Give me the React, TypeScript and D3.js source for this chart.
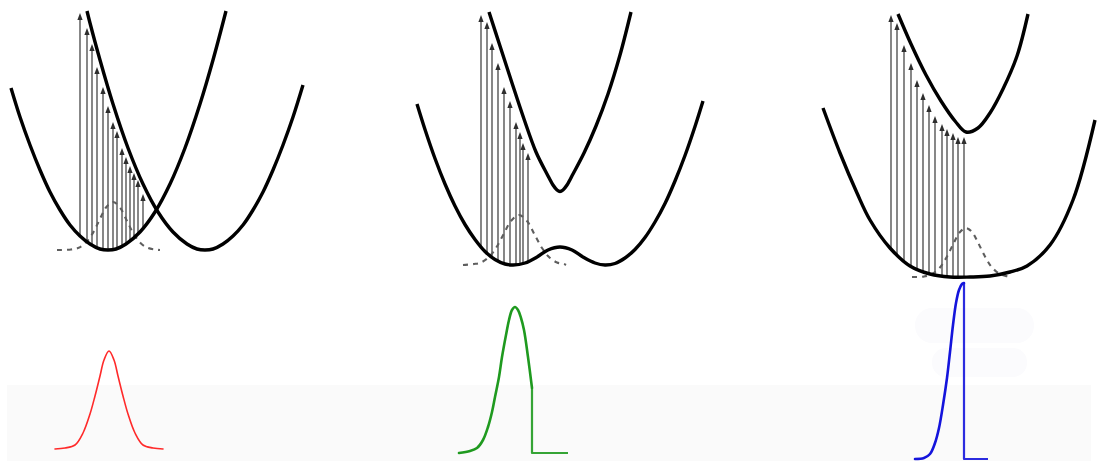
import React from "react";
import * as d3 from "d3";

// Potential-energy curves: [nuclear coordinate q, energy E]
const groundCurve1: [number, number][] = [[1.1,20.2],[2.0,17.3],[3.0,14.5],[4.0,12.0],[5.0,9.8],[6.0,8.0],[7.0,6.5],[8.0,5.4],[9.0,4.6],[10.0,4.1],[10.8,4.0],[11.6,4.1],[12.6,4.6],[14.0,5.8],[15.5,7.8],[17.0,10.6],[18.5,14.2],[20.0,18.6],[21.3,23.0],[22.6,27.9]];
const excitedCurve1: [number, number][] = [[8.7,27.9],[9.0,26.7],[10.0,23.0],[11.3,18.6],[12.8,14.2],[14.3,10.6],[15.8,7.8],[17.3,5.8],[18.7,4.6],[19.7,4.1],[20.5,4.0],[21.3,4.1],[22.3,4.6],[23.3,5.4],[24.3,6.5],[25.3,8.0],[26.3,9.8],[27.3,12.0],[28.3,14.5],[29.3,17.3],[30.3,20.5]];
const groundCurve2: [number, number][] = [[1.7,18.6],[2.5,16.05],[3.5,13.15],[4.5,10.6],[5.5,8.4],[6.5,6.55],[7.5,5.05],[8.5,3.85],[9.5,3.05],[10.5,2.6],[11.3,2.5],[12.5,2.7],[13.7,3.3],[14.8,4.0],[16.0,4.3],[17.2,4.0],[18.3,3.3],[19.5,2.7],[20.5,2.5],[21.5,2.65],[22.5,3.2],[23.5,4.05],[24.5,5.25],[25.5,6.8],[26.5,8.65],[27.5,10.9],[28.5,13.45],[29.5,16.35],[30.3,18.9]];
const excitedCurve2: [number, number][] = [[8.9,27.8],[10.0,24.4],[11.2,20.7],[12.4,17.1],[13.6,13.8],[14.7,11.6],[15.3,10.5],[15.7,10.0],[16.0,9.85],[16.3,10.0],[16.7,10.5],[17.3,11.6],[18.4,13.7],[19.6,16.4],[20.8,19.6],[22.0,23.5],[23.1,27.8]];
const groundCurve3: [number, number][] = [[2.3,18.2],[4.0,13.7],[5.7,9.7],[7.0,7.0],[9.0,4.2],[11.0,2.4],[13.0,1.6],[15.0,1.3],[17.0,1.3],[19.0,1.4],[21.0,1.8],[22.7,2.4],[25.0,4.5],[27.3,9.0],[29.5,17.0]];
const excitedCurve3: [number, number][] = [[9.8,27.6],[11.1,24.6],[12.6,21.5],[14.1,18.9],[15.5,16.9],[16.6,15.8],[17.8,16.2],[19.0,17.7],[20.3,20.1],[21.7,23.4],[22.8,27.6]];

// Ground-state probability density (dashed)
const wavepacket1: [number, number][] = [[5.7,4.0],[7.1,4.05],[7.8,4.2],[8.5,4.65],[9.2,5.55],[9.9,6.9],[10.6,8.25],[11.3,8.8],[12.0,8.25],[12.7,6.9],[13.4,5.55],[14.1,4.65],[14.8,4.2],[15.5,4.05],[16.0,4.0]];
const wavepacket2: [number, number][] = [[6.3,2.5],[7.4,2.6],[8.1,2.75],[8.9,3.3],[9.6,4.2],[10.4,5.65],[11.1,6.9],[11.9,7.5],[12.7,6.9],[13.4,5.65],[14.2,4.2],[14.9,3.3],[15.7,2.75],[16.4,2.6],[16.6,2.5]];
const wavepacket3: [number, number][] = [[11.2,1.3],[12.4,1.35],[13.2,1.6],[14.0,2.25],[14.7,3.35],[15.4,4.75],[16.0,5.8],[16.6,6.2],[17.2,5.8],[17.8,4.75],[18.5,3.35],[19.2,2.25],[20.0,1.6],[20.8,1.35],[21.0,1.3]];

// Vertical transitions: position q and upper energy reached
const arrowQ1 = [8.0,8.7,9.2,9.7,10.3,10.8,11.3,11.7,12.2,12.6,13.0,13.4,13.8,14.3];
const arrowTip1 = [27.7,26.2,24.6,22.3,20.3,18.4,16.8,15.9,14.2,13.3,12.4,11.7,11.0,9.6];
const arrowQ2 = [8.1,8.7,9.2,9.8,10.4,11.0,11.6,12.0,12.3,12.8];
const arrowTip2 = [27.5,26.8,24.7,22.7,20.3,18.9,16.8,15.8,14.7,13.7];
const arrowQ3 = [9.1,9.7,10.4,11.1,11.7,12.3,12.9,13.5,14.2,14.7,15.3,15.8,16.4];
const arrowTip3 = [27.5,26.7,24.5,22.7,21.0,19.7,18.5,17.4,16.6,16.1,15.7,15.3,15.3];

// Absorption spectra: [q, intensity]
const redSpectrum: [number, number][] = [[5.5,1.2],[6.5,1.3],[7.5,1.6],[8.3,2.8],[9.0,4.7],[9.5,6.5],[10.0,8.5],[10.4,10.1],[10.9,11.0],[11.4,10.1],[11.8,8.5],[12.3,6.5],[12.8,4.7],[13.5,2.8],[14.3,1.6],[15.3,1.3],[16.3,1.2]];
const greenSpectrum: [number, number][] = [[5.9,0.8],[7.0,1.0],[7.7,1.3],[8.3,2.1],[8.8,3.4],[9.2,4.9],[9.5,6.4],[9.9,8.4],[10.2,10.4],[10.6,12.6],[10.9,14.1],[11.2,15.1],[11.5,15.4],[11.8,15.1],[12.1,14.3],[12.4,13.1],[12.8,10.4],[13.2,7.3]];
const greenCutoff: [number, number][] = [[13.2,7.3],[13.2,0.8],[16.8,0.8]];
const blueSpectrum: [number, number][] = [[11.5,0.2],[12.4,0.3],[13.0,0.7],[13.5,1.8],[13.9,3.3],[14.3,5.6],[14.7,8.3],[15.0,10.9],[15.3,13.6],[15.6,15.8],[15.9,17.1],[16.2,17.7],[16.4,17.8]];
const blueCutoff: [number, number][] = [[16.4,17.8],[16.4,0.2],[18.8,0.2]];

const W = 1097;
const H = 461;
const PANEL_W = 400;

const yEnergy = d3.scaleLinear().domain([0, 29]).range([290, 0]);
const ySpec = d3.scaleLinear().domain([0, 18]).range([461, 281]);
const panelX = (i: number) => d3.scaleLinear().domain([0, 40]).range([i * PANEL_W, i * PANEL_W + PANEL_W]);

const panels = [
  { ground: groundCurve1, excited: excitedCurve1, wave: wavepacket1, aq: arrowQ1, at: arrowTip1, spec: redSpectrum, cut: null as [number, number][] | null, color: "#ff2a2a", sw: 1.6 },
  { ground: groundCurve2, excited: excitedCurve2, wave: wavepacket2, aq: arrowQ2, at: arrowTip2, spec: greenSpectrum, cut: greenCutoff, color: "#1f9a1f", sw: 2.6 },
  { ground: groundCurve3, excited: excitedCurve3, wave: wavepacket3, aq: arrowQ3, at: arrowTip3, spec: blueSpectrum, cut: blueCutoff, color: "#1414dc", sw: 2.6 },
];

function Panel({ i, p }: { i: number; p: typeof panels[number] }) {
  const x = panelX(i);
  const curve = d3.line<[number, number]>().x((d) => x(d[0])).y((d) => yEnergy(d[1])).curve(d3.curveCatmullRom.alpha(0.5));
  const spec = d3.line<[number, number]>().x((d) => x(d[0])).y((d) => ySpec(d[1])).curve(d3.curveCatmullRom.alpha(0.5));
  const specLin = d3.line<[number, number]>().x((d) => x(d[0])).y((d) => ySpec(d[1]));
  const groundAt = d3.scaleLinear().domain(p.ground.map((d) => d[0])).range(p.ground.map((d) => d[1]));
  return (
    <g>
      {p.aq.map((q, k) => {
        const px = x(q);
        const yTip = yEnergy(p.at[k]);
        const yBase = yEnergy(groundAt(q));
        return (
          <g key={k}>
            <line x1={px} x2={px} y1={yBase} y2={yTip + 5} stroke="#6a6a6a" strokeWidth={1.6} />
            <path d={`M${px},${yTip} L${px - 2.6},${yTip + 7} L${px + 2.6},${yTip + 7} Z`} fill="#2e2e2e" />
          </g>
        );
      })}
      <path d={curve(p.wave) || ""} fill="none" stroke="#5e5e5e" strokeWidth={2.1} strokeDasharray="5 5" />
      <path d={curve(p.ground) || ""} fill="none" stroke="#000" strokeWidth={3.4} strokeLinejoin="round" />
      <path d={curve(p.excited) || ""} fill="none" stroke="#000" strokeWidth={3.4} strokeLinejoin="round" />
      <path d={spec(p.spec) || ""} fill="none" stroke={p.color} strokeWidth={p.sw} strokeLinecap="round" />
      {p.cut && <path d={specLin(p.cut) || ""} fill="none" stroke={p.color} strokeWidth={p.sw - 0.4} strokeLinejoin="round" opacity={0.9} />}
    </g>
  );
}

export default function App() {
  return (
    <div style={{ position: "absolute", left: 0, top: 0 }}>
      <svg width={W} height={H} style={{ display: "block", background: "#fff" }}>
        <rect x={7} y={385} width={1084} height={76} fill="#fafafa" />
        <rect x={915} y={308} width={119} height={35} rx={17} fill="#fbfbfd" />
        <rect x={932} y={348} width={95} height={29} rx={14} fill="#fbfbfd" />
        {panels.map((p, i) => (
          <Panel key={i} i={i} p={p} />
        ))}
      </svg>
    </div>
  );
}
